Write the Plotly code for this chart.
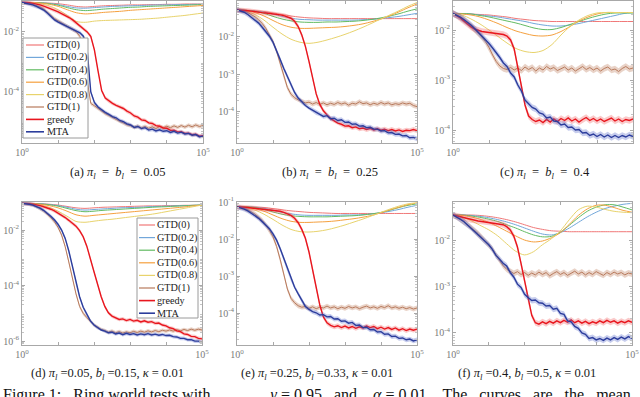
import numpy as np
import plotly.graph_objects as go

# figure size in px
W, H = 640, 397

# ---------------- data (log10 of the error) ----------------
# x positions as powers of ten
XS_EXP = [0.0, 0.25, 0.5, 0.75, 1.0, 1.25, 1.5, 1.75, 2.0, 2.25, 2.5,
          2.75, 3.0, 3.25, 3.5, 3.75, 4.0, 4.25, 4.5, 4.75, 5.0]
XN_EXP = [0.0, 0.1, 0.2, 0.3, 0.4, 0.5, 0.6, 0.7, 0.8, 0.9,
          1.0, 1.1, 1.2, 1.3, 1.4, 1.5, 1.6, 1.7, 1.8, 1.9,
          2.0, 2.1, 2.2, 2.3, 2.4, 2.5, 2.6, 2.7, 2.8, 2.9,
          3.0, 3.1, 3.2, 3.3, 3.4, 3.5, 3.6, 3.7, 3.8, 3.9,
          4.0, 4.1, 4.2, 4.3, 4.4, 4.5, 4.6, 4.7, 4.8, 4.9,
          5.0]

SERIES = ["GTD(0)", "GTD(0.2)", "GTD(0.4)", "GTD(0.6)", "GTD(0.8)", "GTD(1)", "greedy", "MTA"]

# (a)
A_G0 = [-1.02, -1.02, -1.03, -1.04, -1.06, -1.10, -1.15, -1.17, -1.15, -1.13, -1.12,
        -1.11, -1.10, -1.10, -1.09, -1.09, -1.08, -1.08, -1.07, -1.07, -1.07]
A_G2 = [-1.02, -1.02, -1.03, -1.05, -1.09, -1.15, -1.20, -1.21, -1.19, -1.17, -1.15,
        -1.14, -1.13, -1.12, -1.11, -1.10, -1.10, -1.09, -1.09, -1.08, -1.08]
A_G4 = [-1.02, -1.02, -1.03, -1.06, -1.11, -1.19, -1.26, -1.29, -1.27, -1.24, -1.22,
        -1.20, -1.18, -1.17, -1.15, -1.14, -1.13, -1.12, -1.11, -1.10, -1.09]
A_G6 = [-1.02, -1.02, -1.04, -1.08, -1.15, -1.26, -1.36, -1.40, -1.38, -1.35, -1.33,
        -1.31, -1.28, -1.26, -1.24, -1.22, -1.20, -1.18, -1.16, -1.14, -1.12]
A_G8 = [-1.02, -1.03, -1.06, -1.13, -1.26, -1.45, -1.65, -1.68, -1.64, -1.62, -1.61,
        -1.60, -1.59, -1.58, -1.56, -1.54, -1.51, -1.48, -1.45, -1.41, -1.37]
A_G1 = [-1.02, -1.03, -1.05, -1.08, -1.12, -1.17, -1.24, -1.33, -1.45, -1.56,
        -1.64, -1.71, -1.78, -1.85, -1.92, -2.00, -2.15, -2.60, -3.60, -4.38,
        -4.46, -4.55, -4.63, -4.72, -4.78, -4.85, -4.90, -4.98, -5.03, -5.09,
        -5.12, -5.18, -5.14, -5.20, -5.15, -5.21, -5.16, -5.22, -5.15, -5.20,
        -5.14, -5.19, -5.13, -5.18, -5.12, -5.17, -5.11, -5.16, -5.10, -5.15,
        -5.12]
A_GR = [-1.02, -1.02, -1.03, -1.05, -1.07, -1.10, -1.14, -1.18, -1.23, -1.28,
        -1.33, -1.39, -1.45, -1.52, -1.60, -1.70, -1.80, -1.90, -2.00, -2.15,
        -2.60, -3.30, -3.95, -4.20, -4.30, -4.38, -4.45, -4.50, -4.55, -4.64,
        -4.70, -4.80, -4.84, -4.93, -4.95, -5.03, -5.05, -5.12, -5.14, -5.20,
        -5.21, -5.28, -5.27, -5.33, -5.32, -5.38, -5.37, -5.42, -5.41, -5.47,
        -5.46]
A_MTA = [-1.02, -1.04, -1.07, -1.10, -1.15, -1.20, -1.27, -1.37, -1.50, -1.60,
         -1.67, -1.73, -1.80, -1.86, -1.92, -1.97, -2.03, -2.15, -2.60, -4.00,
         -4.35, -4.50, -4.60, -4.68, -4.75, -4.82, -4.86, -4.95, -4.99, -5.06,
         -5.10, -5.18, -5.15, -5.22, -5.19, -5.27, -5.24, -5.30, -5.26, -5.31,
         -5.29, -5.35, -5.31, -5.37, -5.34, -5.40, -5.38, -5.44, -5.42, -5.49,
         -5.47]

# (b)
B_G0 = [-1.28, -1.28, -1.30, -1.32, -1.36, -1.40, -1.44, -1.47, -1.49, -1.50, -1.51,
        -1.51, -1.51, -1.51, -1.51, -1.51, -1.51, -1.51, -1.51, -1.51, -1.51]
B_G2 = [-1.28, -1.29, -1.31, -1.34, -1.39, -1.45, -1.50, -1.53, -1.54, -1.55, -1.55,
        -1.55, -1.55, -1.55, -1.54, -1.53, -1.51, -1.48, -1.45, -1.41, -1.37]
B_G4 = [-1.28, -1.29, -1.32, -1.37, -1.45, -1.52, -1.57, -1.60, -1.61, -1.61, -1.60,
        -1.60, -1.59, -1.58, -1.56, -1.53, -1.49, -1.44, -1.38, -1.31, -1.25]
B_G6 = [-1.28, -1.30, -1.35, -1.44, -1.56, -1.67, -1.74, -1.77, -1.77, -1.76, -1.75,
        -1.74, -1.72, -1.69, -1.65, -1.59, -1.52, -1.43, -1.33, -1.22, -1.12]
B_G8 = [-1.28, -1.32, -1.40, -1.55, -1.74, -1.92, -2.06, -2.14, -2.17, -2.14, -2.08,
        -2.01, -1.93, -1.84, -1.74, -1.63, -1.52, -1.41, -1.30, -1.18, -1.08]
B_G1 = [-1.28, -1.29, -1.31, -1.35, -1.40, -1.46, -1.54, -1.64, -1.77, -1.93,
        -2.12, -2.38, -2.70, -3.05, -3.35, -3.53, -3.62, -3.68, -3.72, -3.76,
        -3.74, -3.79, -3.75, -3.80, -3.76, -3.81, -3.77, -3.80, -3.75, -3.79,
        -3.76, -3.82, -3.77, -3.79, -3.73, -3.78, -3.76, -3.81, -3.77, -3.80,
        -3.75, -3.79, -3.76, -3.81, -3.78, -3.80, -3.76, -3.79, -3.77, -3.83,
        -3.86]
B_GR = [-1.28, -1.28, -1.29, -1.30, -1.31, -1.33, -1.34, -1.35, -1.36, -1.37,
        -1.38, -1.39, -1.41, -1.43, -1.46, -1.50, -1.58, -1.72, -1.95, -2.25,
        -2.65, -3.10, -3.52, -3.80, -3.97, -4.08, -4.18, -4.24, -4.30, -4.33,
        -4.38, -4.37, -4.42, -4.40, -4.45, -4.43, -4.47, -4.44, -4.48, -4.45,
        -4.49, -4.46, -4.50, -4.47, -4.51, -4.48, -4.52, -4.49, -4.50, -4.47,
        -4.50]
B_MTA = [-1.28, -1.30, -1.34, -1.40, -1.47, -1.55, -1.63, -1.74, -1.86, -1.98,
         -2.14, -2.35, -2.60, -2.84, -3.07, -3.28, -3.48, -3.63, -3.74, -3.83,
         -3.90, -3.95, -4.02, -4.05, -4.12, -4.10, -4.18, -4.17, -4.23, -4.21,
         -4.28, -4.27, -4.33, -4.32, -4.38, -4.37, -4.42, -4.41, -4.46, -4.46,
         -4.51, -4.50, -4.56, -4.55, -4.60, -4.59, -4.64, -4.63, -4.69, -4.68,
         -4.72]

# (c)
C_G0 = [-1.67, -1.67, -1.68, -1.69, -1.70, -1.72, -1.74, -1.77, -1.79, -1.81, -1.82,
        -1.83, -1.83, -1.83, -1.83, -1.83, -1.83, -1.83, -1.83, -1.83, -1.83]
C_G2 = [-1.67, -1.67, -1.68, -1.70, -1.72, -1.74, -1.77, -1.80, -1.83, -1.87, -1.90,
        -1.92, -1.92, -1.90, -1.87, -1.83, -1.79, -1.75, -1.71, -1.67, -1.65]
C_G4 = [-1.67, -1.67, -1.68, -1.71, -1.74, -1.78, -1.82, -1.86, -1.91, -1.96, -1.99,
        -1.99, -1.95, -1.89, -1.83, -1.77, -1.72, -1.68, -1.66, -1.66, -1.66]
C_G6 = [-1.67, -1.68, -1.70, -1.74, -1.80, -1.87, -1.95, -2.02, -2.07, -2.11, -2.12,
        -2.10, -2.03, -1.93, -1.82, -1.74, -1.68, -1.65, -1.65, -1.65, -1.65]
C_G8 = [-1.67, -1.70, -1.78, -1.88, -2.00, -2.13, -2.26, -2.37, -2.43, -2.45, -2.41,
        -2.29, -2.10, -1.93, -1.80, -1.71, -1.66, -1.65, -1.65, -1.65, -1.65]
C_G1 = [-1.67, -1.70, -1.74, -1.79, -1.85, -1.92, -1.99, -2.06, -2.14, -2.23,
        -2.35, -2.50, -2.63, -2.72, -2.77, -2.79, -2.75, -2.80, -2.76, -2.81,
        -2.74, -2.79, -2.75, -2.82, -2.76, -2.80, -2.73, -2.78, -2.75, -2.81,
        -2.77, -2.74, -2.80, -2.76, -2.82, -2.77, -2.73, -2.79, -2.75, -2.80,
        -2.76, -2.82, -2.77, -2.74, -2.80, -2.78, -2.83, -2.77, -2.73, -2.78,
        -2.76]
C_GR = [-1.67, -1.71, -1.76, -1.82, -1.88, -1.94, -1.98, -2.01, -2.03, -2.04,
        -2.05, -2.06, -2.07, -2.08, -2.09, -2.12, -2.20, -2.38, -2.72, -3.12,
        -3.50, -3.72, -3.79, -3.83, -3.80, -3.85, -3.79, -3.84, -3.78, -3.83,
        -3.77, -3.81, -3.76, -3.82, -3.78, -3.84, -3.79, -3.75, -3.81, -3.77,
        -3.82, -3.78, -3.83, -3.79, -3.76, -3.82, -3.78, -3.83, -3.79, -3.81,
        -3.78]
C_MTA = [-1.67, -1.70, -1.74, -1.79, -1.84, -1.90, -1.97, -2.04, -2.11, -2.19,
         -2.27, -2.36, -2.45, -2.55, -2.66, -2.73, -2.86, -2.94, -3.10, -3.22,
         -3.40, -3.47, -3.55, -3.58, -3.66, -3.68, -3.76, -3.74, -3.82, -3.83,
         -3.90, -3.88, -3.95, -3.94, -4.00, -3.99, -4.06, -4.05, -4.11, -4.08,
         -4.13, -4.09, -4.14, -4.10, -4.15, -4.11, -4.15, -4.11, -4.14, -4.10,
         -4.13]

# (d)
D_G0 = [-1.04, -1.04, -1.05, -1.07, -1.10, -1.15, -1.20, -1.22, -1.20, -1.18, -1.17,
        -1.16, -1.15, -1.14, -1.13, -1.13, -1.12, -1.12, -1.11, -1.11, -1.10]
D_G2 = [-1.04, -1.04, -1.05, -1.08, -1.12, -1.18, -1.25, -1.28, -1.26, -1.24, -1.22,
        -1.20, -1.19, -1.18, -1.16, -1.15, -1.14, -1.13, -1.12, -1.11, -1.10]
D_G4 = [-1.04, -1.04, -1.06, -1.09, -1.14, -1.22, -1.30, -1.34, -1.32, -1.29, -1.27,
        -1.25, -1.23, -1.21, -1.19, -1.17, -1.16, -1.14, -1.13, -1.11, -1.10]
D_G6 = [-1.04, -1.05, -1.07, -1.12, -1.20, -1.32, -1.45, -1.50, -1.47, -1.44, -1.41,
        -1.38, -1.35, -1.32, -1.29, -1.26, -1.23, -1.20, -1.17, -1.13, -1.10]
D_G8 = [-1.04, -1.06, -1.10, -1.18, -1.32, -1.50, -1.69, -1.72, -1.68, -1.64, -1.61,
        -1.57, -1.53, -1.49, -1.45, -1.40, -1.34, -1.28, -1.22, -1.16, -1.10]
D_G1 = [-1.04, -1.05, -1.07, -1.10, -1.15, -1.22, -1.31, -1.42, -1.55, -1.70,
        -1.90, -2.18, -2.60, -3.15, -3.75, -4.30, -4.75, -5.00, -5.15, -5.30,
        -5.42, -5.50, -5.58, -5.62, -5.68, -5.64, -5.70, -5.66, -5.71, -5.67,
        -5.70, -5.65, -5.69, -5.64, -5.68, -5.63, -5.67, -5.62, -5.66, -5.61,
        -5.64, -5.60, -5.64, -5.59, -5.63, -5.58, -5.62, -5.57, -5.61, -5.57,
        -5.60]
D_GR = [-1.04, -1.04, -1.05, -1.07, -1.09, -1.12, -1.16, -1.20, -1.25, -1.31,
        -1.38, -1.46, -1.55, -1.65, -1.74, -1.86, -2.02, -2.24, -2.58, -3.00,
        -3.50, -3.95, -4.40, -4.75, -4.98, -5.10, -5.16, -5.22, -5.20, -5.26,
        -5.22, -5.28, -5.25, -5.31, -5.27, -5.32, -5.30, -5.36, -5.35, -5.42,
        -5.45, -5.52, -5.55, -5.63, -5.66, -5.74, -5.76, -5.83, -5.84, -5.90,
        -5.92]
D_MTA = [-1.04, -1.05, -1.07, -1.10, -1.15, -1.21, -1.29, -1.39, -1.50, -1.63,
         -1.79, -2.00, -2.30, -2.75, -3.30, -3.92, -4.40, -4.78, -5.05, -5.27,
         -5.42, -5.52, -5.60, -5.64, -5.70, -5.68, -5.74, -5.71, -5.77, -5.72,
         -5.76, -5.73, -5.78, -5.74, -5.77, -5.73, -5.78, -5.75, -5.79, -5.76,
         -5.80, -5.79, -5.84, -5.85, -5.90, -5.90, -5.95, -5.95, -6.00, -6.00,
         -6.04]

# (e)
E_G0 = [-1.13, -1.13, -1.14, -1.15, -1.18, -1.21, -1.24, -1.26, -1.28, -1.29, -1.30,
        -1.31, -1.31, -1.31, -1.31, -1.31, -1.31, -1.31, -1.31, -1.31, -1.31]
E_G2 = [-1.13, -1.13, -1.14, -1.17, -1.22, -1.28, -1.32, -1.35, -1.36, -1.36, -1.36,
        -1.36, -1.35, -1.35, -1.34, -1.32, -1.29, -1.25, -1.20, -1.14, -1.09]
E_G4 = [-1.13, -1.13, -1.15, -1.20, -1.27, -1.33, -1.37, -1.39, -1.40, -1.40, -1.40,
        -1.39, -1.38, -1.37, -1.35, -1.32, -1.28, -1.22, -1.15, -1.09, -1.05]
E_G6 = [-1.13, -1.14, -1.18, -1.25, -1.35, -1.45, -1.52, -1.55, -1.55, -1.54, -1.53,
        -1.51, -1.48, -1.45, -1.41, -1.36, -1.29, -1.21, -1.14, -1.07, -1.03]
E_G8 = [-1.13, -1.16, -1.22, -1.33, -1.47, -1.62, -1.74, -1.80, -1.81, -1.79, -1.75,
        -1.69, -1.62, -1.54, -1.46, -1.37, -1.28, -1.19, -1.11, -1.05, -1.02]
E_G1 = [-1.13, -1.14, -1.17, -1.21, -1.26, -1.33, -1.41, -1.50, -1.62, -1.76,
        -1.94, -2.20, -2.55, -2.95, -3.35, -3.60, -3.72, -3.80, -3.84, -3.82,
        -3.87, -3.83, -3.88, -3.84, -3.86, -3.81, -3.86, -3.83, -3.88, -3.84,
        -3.87, -3.82, -3.86, -3.83, -3.88, -3.84, -3.81, -3.86, -3.83, -3.87,
        -3.82, -3.85, -3.80, -3.86, -3.83, -3.87, -3.84, -3.88, -3.85, -3.89,
        -3.86]
E_GR = [-1.13, -1.13, -1.14, -1.15, -1.16, -1.17, -1.18, -1.19, -1.20, -1.21,
        -1.22, -1.23, -1.25, -1.28, -1.31, -1.36, -1.44, -1.56, -1.74, -1.98,
        -2.35, -2.85, -3.35, -3.78, -4.10, -4.26, -4.33, -4.37, -4.34, -4.39,
        -4.35, -4.40, -4.36, -4.41, -4.37, -4.40, -4.35, -4.39, -4.36, -4.42,
        -4.38, -4.43, -4.39, -4.44, -4.40, -4.46, -4.42, -4.47, -4.43, -4.46,
        -4.43]
E_MTA = [-1.13, -1.15, -1.19, -1.24, -1.30, -1.37, -1.44, -1.53, -1.63, -1.72,
         -1.86, -2.03, -2.26, -2.52, -2.82, -3.08, -3.30, -3.48, -3.66, -3.82,
         -3.90, -3.96, -3.99, -4.05, -4.04, -4.10, -4.09, -4.16, -4.15, -4.22,
         -4.21, -4.27, -4.25, -4.33, -4.32, -4.39, -4.38, -4.45, -4.44, -4.51,
         -4.50, -4.57, -4.56, -4.63, -4.62, -4.68, -4.67, -4.72, -4.70, -4.75,
         -4.72]

# (f)
F_G0 = [-1.46, -1.46, -1.46, -1.47, -1.49, -1.52, -1.56, -1.61, -1.67, -1.73, -1.77,
        -1.80, -1.81, -1.82, -1.82, -1.82, -1.82, -1.82, -1.82, -1.82, -1.82]
F_G2 = [-1.46, -1.46, -1.47, -1.49, -1.52, -1.56, -1.61, -1.67, -1.74, -1.81, -1.87,
        -1.89, -1.84, -1.74, -1.62, -1.50, -1.40, -1.32, -1.27, -1.23, -1.21]
F_G4 = [-1.46, -1.46, -1.48, -1.51, -1.55, -1.60, -1.67, -1.74, -1.82, -1.89, -1.93,
        -1.92, -1.83, -1.68, -1.52, -1.38, -1.29, -1.24, -1.24, -1.29, -1.35]
F_G6 = [-1.46, -1.47, -1.50, -1.55, -1.62, -1.71, -1.81, -1.91, -2.00, -2.04, -2.02,
        -1.95, -1.84, -1.66, -1.47, -1.33, -1.25, -1.25, -1.30, -1.36, -1.40]
F_G8 = [-1.46, -1.50, -1.58, -1.68, -1.78, -1.91, -2.08, -2.24, -2.32, -2.25, -2.10,
        -1.97, -1.80, -1.56, -1.35, -1.27, -1.29, -1.34, -1.38, -1.40, -1.41]
F_G1 = [-1.46, -1.50, -1.55, -1.60, -1.66, -1.72, -1.79, -1.86, -1.94, -2.02,
        -2.10, -2.20, -2.32, -2.43, -2.55, -2.63, -2.68, -2.72, -2.68, -2.74,
        -2.70, -2.76, -2.71, -2.75, -2.69, -2.74, -2.70, -2.77, -2.72, -2.68,
        -2.74, -2.70, -2.76, -2.71, -2.67, -2.73, -2.69, -2.75, -2.70, -2.74,
        -2.68, -2.72, -2.76, -2.70, -2.74, -2.69, -2.73, -2.70, -2.75, -2.71,
        -2.73]
F_GR = [-1.46, -1.48, -1.50, -1.52, -1.54, -1.56, -1.58, -1.59, -1.60, -1.61,
        -1.62, -1.63, -1.64, -1.65, -1.67, -1.71, -1.78, -1.92, -2.15, -2.50,
        -2.90, -3.30, -3.62, -3.78, -3.81, -3.76, -3.80, -3.75, -3.79, -3.74,
        -3.78, -3.73, -3.77, -3.72, -3.78, -3.74, -3.79, -3.75, -3.80, -3.76,
        -3.79, -3.74, -3.78, -3.73, -3.77, -3.74, -3.79, -3.75, -3.78, -3.74,
        -3.77]
F_MTA = [-1.46, -1.50, -1.55, -1.60, -1.67, -1.73, -1.80, -1.87, -1.95, -2.03,
         -2.10, -2.20, -2.33, -2.41, -2.50, -2.56, -2.70, -2.80, -2.95, -3.02,
         -3.17, -3.24, -3.30, -3.29, -3.35, -3.36, -3.42, -3.41, -3.49, -3.47,
         -3.58, -3.60, -3.74, -3.76, -3.86, -3.90, -4.00, -4.03, -4.12, -4.10,
         -4.15, -4.12, -4.16, -4.11, -4.15, -4.10, -4.14, -4.09, -4.13, -4.08,
         -4.12]

# tick labels
X_TICK_EXP = [0, 1, 2, 3, 4, 5]
X_TICK_LABELS = ["10<sup>0</sup>", "", "", "", "", "10<sup>5</sup>"]
A_YTICK_EXP = [-2, -4]
B_YTICK_EXP = [-2, -3, -4]
C_YTICK_EXP = [-2, -3, -4]
D_YTICK_EXP = [-2, -4, -6]
E_YTICK_EXP = [-1, -2, -3, -4]
F_YTICK_EXP = [-2, -3, -4]

SP = "\u00a0"
CAPTIONS = [
    f"(a) <i>π</i><sub><i>l</i></sub>{SP}{SP}={SP}{SP}<i>b</i><sub><i>l</i></sub>{SP}{SP}={SP}{SP}0.05",
    f"(b) <i>π</i><sub><i>l</i></sub>{SP}{SP}={SP}{SP}<i>b</i><sub><i>l</i></sub>{SP}{SP}={SP}{SP}0.25",
    f"(c) <i>π</i><sub><i>l</i></sub>{SP}{SP}={SP}{SP}<i>b</i><sub><i>l</i></sub>{SP}{SP}={SP}{SP}0.4",
    "(d) <i>π</i><sub><i>l</i></sub> =0.05, <i>b</i><sub><i>l</i></sub> =0.15, <i>κ</i> = 0.01",
    "(e) <i>π</i><sub><i>l</i></sub> =0.25, <i>b</i><sub><i>l</i></sub> =0.33, <i>κ</i> = 0.01",
    "(f) <i>π</i><sub><i>l</i></sub> =0.4, <i>b</i><sub><i>l</i></sub> =0.5, <i>κ</i> = 0.01",
]
FIG_CAPTION = (f"Figure 1:{SP}{SP} Ring world tests with" + SP * 15 +
               f"<i>γ</i> = 0.95{SP}{SP} and" + SP * 4 +
               f"<i>α</i> = 0.01.{SP}{SP} The{SP}{SP} curves{SP}{SP} are{SP}{SP} the{SP}{SP} mean{SP}{SP} and")

# ---------------- style ----------------
COLORS = ["#f07878", "#72a7da", "#62bb62", "#f5a03e", "#e8d36c", "#b87a5c", "#e8161e", "#2c3d9c"]
BAND_COLORS = ["rgba(196,140,110,0.38)", "rgba(240,90,90,0.32)", "rgba(80,100,200,0.32)"]
BAND = 0.065          # half width of the shaded band, in decades
SERIF = "Liberation Serif"
FRAME = "#a8a8a8"
TICK_COLOR = "#7a7a7a"

# panel boxes in pixels: left, right, top, bottom ; y range in decades
PANELS = [
    dict(smooth=[A_G0, A_G2, A_G4, A_G6, A_G8], noisy=[A_G1, A_GR, A_MTA],
         box=(22, 203, 1, 143), yr=[-5.7, -0.97], yt=A_YTICK_EXP, cap=(117, 173)),
    dict(smooth=[B_G0, B_G2, B_G4, B_G6, B_G8], noisy=[B_G1, B_GR, B_MTA],
         box=(237, 417, 1, 143), yr=[-4.83, -1.04], yt=B_YTICK_EXP, cap=(330, 173)),
    dict(smooth=[C_G0, C_G2, C_G4, C_G6, C_G8], noisy=[C_G1, C_GR, C_MTA],
         box=(453, 633, 1, 143), yr=[-4.26, -1.42], yt=C_YTICK_EXP, cap=(545, 173)),
    dict(smooth=[D_G0, D_G2, D_G4, D_G6, D_G8], noisy=[D_G1, D_GR, D_MTA],
         box=(22, 202, 202, 345), yr=[-6.14, -0.99], yt=D_YTICK_EXP, cap=(107, 374)),
    dict(smooth=[E_G0, E_G2, E_G4, E_G6, E_G8], noisy=[E_G1, E_GR, E_MTA],
         box=(237, 417, 202, 345), yr=[-4.86, -1.0], yt=E_YTICK_EXP, cap=(317, 374)),
    dict(smooth=[F_G0, F_G2, F_G4, F_G6, F_G8], noisy=[F_G1, F_GR, F_MTA],
         box=(453, 632, 202, 345), yr=[-4.26, -1.18], yt=F_YTICK_EXP, cap=(527, 374)),
]


def px(x):
    return x / W


def py(y):
    return 1 - y / H


xs = np.power(10.0, XS_EXP)
xn = np.power(10.0, XN_EXP)
minor_y = [m * 10.0 ** k for k in range(-7, 0) for m in range(2, 10)]

fig = go.Figure()
layout_axes = {}
annotations = []
shapes = []

for i, p in enumerate(PANELS, start=1):
    xa = "x" if i == 1 else f"x{i}"
    ya = "y" if i == 1 else f"y{i}"

    for k, vals in enumerate(p["smooth"]):
        fig.add_trace(go.Scatter(
            x=xs, y=np.power(10.0, vals), mode="lines",
            line=dict(color=COLORS[k], width=1, shape="spline", smoothing=0.8),
            xaxis=xa, yaxis=ya, showlegend=False, hoverinfo="skip"))

    for k, vals in enumerate(p["noisy"]):
        v = np.array(vals)
        fig.add_trace(go.Scatter(
            x=np.concatenate([xn, xn[::-1]]),
            y=np.concatenate([np.power(10.0, v + BAND), np.power(10.0, v - BAND)[::-1]]),
            fill="toself", fillcolor=BAND_COLORS[k], line=dict(width=0),
            mode="lines", xaxis=xa, yaxis=ya, showlegend=False, hoverinfo="skip"))
        fig.add_trace(go.Scatter(
            x=xn, y=np.power(10.0, v), mode="lines",
            line=dict(color=COLORS[5 + k], width=1.0 if k == 0 else 1.4),
            xaxis=xa, yaxis=ya, showlegend=False, hoverinfo="skip"))

    l, r, t, b = p["box"]
    common = dict(showline=True, linecolor=FRAME, linewidth=1, mirror="ticks",
                  ticks="inside", tickcolor=FRAME, showgrid=False, zeroline=False,
                  automargin=False,
                  tickfont=dict(family=SERIF, size=10, color=TICK_COLOR))
    layout_axes["xaxis" if i == 1 else f"xaxis{i}"] = dict(
        type="log", range=[0, 5], domain=[px(l), px(r)], anchor=ya,
        tickmode="array", tickvals=[10.0 ** e for e in X_TICK_EXP], ticktext=X_TICK_LABELS,
        ticklen=3, **common)
    layout_axes["yaxis" if i == 1 else f"yaxis{i}"] = dict(
        type="log", range=p["yr"], domain=[py(b), py(t)], anchor=xa,
        tickmode="array", tickvals=[10.0 ** e for e in p["yt"]],
        ticktext=[f"10<sup>{e}</sup>" for e in p["yt"]], ticklen=3,
        minor=dict(tickmode="array", tickvals=minor_y, ticks="inside", ticklen=2,
                   tickcolor="#c4c4c4"),
        **common)

    cx, cy = p["cap"]
    annotations.append(dict(x=px(cx), y=py(cy), xref="paper", yref="paper",
                            text=CAPTIONS[i - 1], showarrow=False,
                            xanchor="center", yanchor="middle",
                            font=dict(family=SERIF, size=12.5, color="#1a1a1a")))


def add_legend(x0, x1, y0, y1, row0, dy, sx0, sx1, tx):
    shapes.append(dict(type="rect", xref="paper", yref="paper",
                       x0=px(x0), x1=px(x1), y0=py(y1), y1=py(y0),
                       fillcolor="white", line=dict(color="#9a9a9a", width=1), layer="above"))
    for k, name in enumerate(SERIES):
        yy = row0 + dy * k
        shapes.append(dict(type="line", xref="paper", yref="paper",
                           x0=px(sx0), x1=px(sx1), y0=py(yy), y1=py(yy),
                           line=dict(color=COLORS[k], width=1.2 if k < 6 else 1.6),
                           layer="above"))
        annotations.append(dict(x=px(tx), y=py(yy), xref="paper", yref="paper",
                                text=name, showarrow=False, xanchor="left", yanchor="middle",
                                font=dict(family=SERIF, size=10.2, color="#222222")))


add_legend(23, 88, 38, 138, 45, 12.4, 26, 44, 44.5)
add_legend(137, 198, 218, 318, 225, 12.6, 139, 155, 154.5)

annotations.append(dict(x=px(1), y=py(384), xref="paper", yref="paper",
                        text=FIG_CAPTION, showarrow=False, xanchor="left", yanchor="top",
                        font=dict(family=SERIF, size=16, color="#111111")))

fig.update_layout(
    width=W, height=H,
    margin=dict(l=0, r=0, t=0, b=0),
    paper_bgcolor="white", plot_bgcolor="white",
    showlegend=False,
    annotations=annotations, shapes=shapes,
    **layout_axes,
)

# the page's default body margin would push the figure 8px right and down
fig.write_html("out.html", config={"displayModeBar": False},
               post_script="document.body.style.margin = '0px';")
